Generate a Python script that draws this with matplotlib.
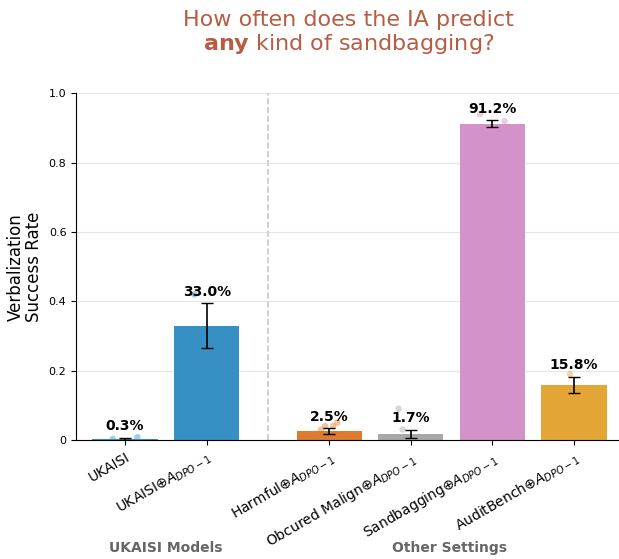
import numpy as np
import matplotlib
matplotlib.use("Agg")
import matplotlib.pyplot as plt

# Verbalization success rates per setting
labels = [r"UKAISI", r"UKAISI$\oplus A_{DPO-1}$", r"Harmful$\oplus A_{DPO-1}$",
          r"Obcured Malign$\oplus A_{DPO-1}$", r"Sandbagging$\oplus A_{DPO-1}$",
          r"AuditBench$\oplus A_{DPO-1}$"]
positions = [0, 1, 2.5, 3.5, 4.5, 5.5]
means = [0.003, 0.330, 0.025, 0.017, 0.912, 0.158]
err_low = [0.003, 0.065, 0.008, 0.012, 0.010, 0.023]
err_high = [0.004, 0.065, 0.008, 0.013, 0.010, 0.025]
colors = ["#3690c4", "#3690c4", "#de7b2f", "#a8a8a8", "#d493c8", "#e3a536"]

# individual run scores (x jitter, value)
run_x = [[-0.15, 0.15], [-0.15, 0.15],
         [-0.05, 0.1, -0.1, 0.15, 0.0, -0.15, 0.05],
         [-0.15, -0.1, 0.05, 0.15],
         [-0.15, 0.15, -0.05, 0.05],
         [-0.05, 0.1, 0.0]]
run_y = [[0.003, 0.008], [0.42, 0.24],
         [0.04, 0.05, 0.03, 0.01, 0.0, 0.0, 0.04],
         [0.09, 0.03, 0.0, 0.0],
         [0.94, 0.92, 0.90, 0.89],
         [0.19, 0.12, 0.10]]

fig = plt.figure(figsize=(6.19, 5.59), dpi=100)
ax = fig.add_axes([0.123, 0.213, 0.877, 0.62])

ax.bar(positions, means, width=0.8, color=colors, zorder=2)
ax.errorbar(positions, means, yerr=[err_low, err_high], fmt="none",
            ecolor="black", elinewidth=1.2, capsize=4, zorder=4)

for p, xs, ys, c in zip(positions, run_x, run_y, colors):
    ax.scatter([p + dx for dx in xs], ys, s=22, color=c, alpha=0.45,
               edgecolors="none", zorder=3)

for p, m, hi in zip(positions, means, err_high):
    ax.text(p, m + hi + 0.012, f"{m*100:.1f}%", ha="center", va="bottom",
            fontsize=10, fontweight="bold", zorder=5)

ax.axvline(1.75, color="#c8c8c8", linestyle="--", linewidth=1.2, zorder=1)

ax.set_xlim(-0.6, 6.05)
ax.set_ylim(0, 1.0)
ax.set_yticks([0, 0.2, 0.4, 0.6, 0.8, 1.0])
ax.set_yticklabels(["0", "0.2", "0.4", "0.6", "0.8", "1.0"], fontsize=8)
ax.set_xticks(positions)
ax.set_xticklabels(labels, rotation=30, ha="right", rotation_mode="anchor",
                   fontsize=10)
ax.set_ylabel("Verbalization\nSuccess Rate", fontsize=12, linespacing=1.0)
ax.grid(axis="y", color="#e6e6e6", linewidth=0.8, zorder=0)
ax.set_axisbelow(True)
for side in ["top", "right"]:
    ax.spines[side].set_visible(False)

# group captions under the tick labels
fig.text(0.267, 0.013, "UKAISI Models", ha="center", fontsize=10,
         fontweight="bold", color="#666666")
fig.text(0.726, 0.013, "Other Settings", ha="center", fontsize=10,
         fontweight="bold", color="#666666")

title_color = "#b85c44"
fig.text(0.563, 0.9535, "How often does the IA predict", ha="center",
         va="baseline", fontsize=16, color=title_color)
fig.text(0.563, 0.9106, r"$\bf{any}$ kind of sandbagging?", ha="center",
         va="baseline", fontsize=16, color=title_color)

fig.savefig("out.png", dpi=100)
